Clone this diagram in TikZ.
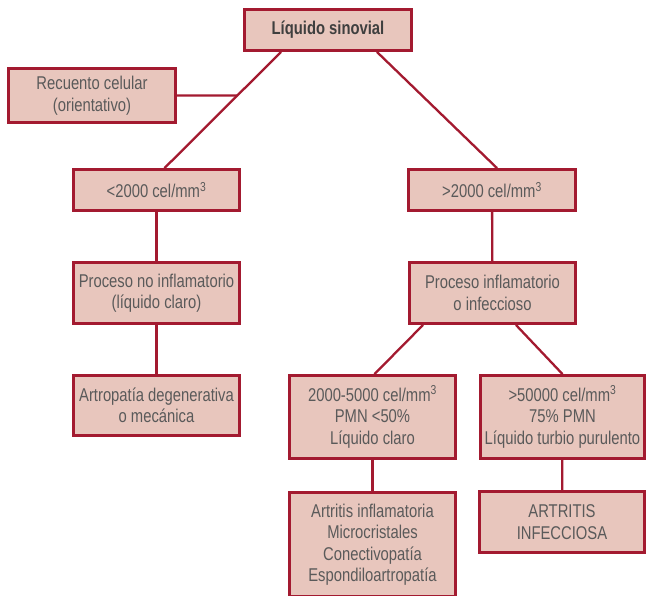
\documentclass[tikz,border=0pt]{standalone}
\usepackage{fontspec}
\setmainfont{Liberation Sans}[FakeStretch=0.8]
\definecolor{borde}{HTML}{A31A30}
\definecolor{relleno}{HTML}{E8C6BD}
\definecolor{texto}{HTML}{5A5A5A}
\begin{document}
\begin{tikzpicture}[x=1pt,y=-1pt,
        caja/.style={draw=borde,line width=2.8pt,fill=relleno,text=texto,align=center,inner sep=0pt,
            font=\fontsize{18.5}{21.5}\selectfont},
        linea/.style={draw=borde,line width=2.3pt}]
        \clip (0,0) rectangle (648,596);

        \node[caja,minimum width=167pt,minimum height=41pt,text=texto!70!black,font=\fontsize{18.5}{21.5}\selectfont\bfseries] (sinovial) at (328,30) {Líquido sinovial};
        \node[caja,minimum width=167pt,minimum height=54pt] (recuento) at (92,95.5) {Recuento celular\\(orientativo)};
        \node[caja,minimum width=166pt,minimum height=41pt] (menor) at (156.5,190) {<2000 cel/mm\textsuperscript{3}};
        \node[caja,minimum width=167pt,minimum height=41pt] (mayor) at (492,190) {>2000 cel/mm\textsuperscript{3}};
        \node[caja,minimum width=166pt,minimum height=61pt] (noinfl) at (156.5,293) {Proceso no inflamatorio\\(líquido claro)};
        \node[caja,minimum width=166pt,minimum height=61pt] (infl) at (492.5,293) {Proceso inflamatorio\\o infeccioso};
        \node[caja,minimum width=166pt,minimum height=60pt] (artropatia) at (156.5,405.5) {Artropatía degenerativa\\o mecánica};
        \node[caja,minimum width=166pt,minimum height=83pt] (claro) at (372.5,417) {2000-5000 cel/mm\textsuperscript{3}\\PMN <50\%\\Líquido claro};
        \node[caja,minimum width=164pt,minimum height=83pt] (turbio) at (562.5,417) {>50000 cel/mm\textsuperscript{3}\\75\% PMN\\Líquido turbio purulento};
        \node[caja,minimum width=166pt,minimum height=104pt] (inflam) at (372.5,544.5) {Artritis inflamatoria\\Microcristales\\Conectivopatía\\Espondiloartropatía};
        \node[caja,minimum width=165pt,minimum height=61pt] (infecciosa) at (562,522) {ARTRITIS\\INFECCIOSA};

        \path[linea] ([xshift=38pt]sinovial.south west) -- coordinate[pos=0.375] (cruce) ([xshift=8pt]menor.north);
        \path[linea] ([xshift=-36pt]sinovial.south east) -- ([xshift=5pt]mayor.north);
        \path[linea] (recuento.east) -- (cruce);
        \path[linea] (menor) -- (noinfl);
        \path[linea] (noinfl) -- (artropatia);
        \path[linea] (mayor) -- (infl);
        \path[linea] ([xshift=15pt]infl.south west) -- ([xshift=2pt]claro.north);
        \path[linea] ([xshift=-61pt]infl.south east) -- (turbio.north);
        \path[linea] (claro) -- (inflam);
        \path[linea] (turbio) -- (infecciosa);
    \end{tikzpicture}
\end{document}
